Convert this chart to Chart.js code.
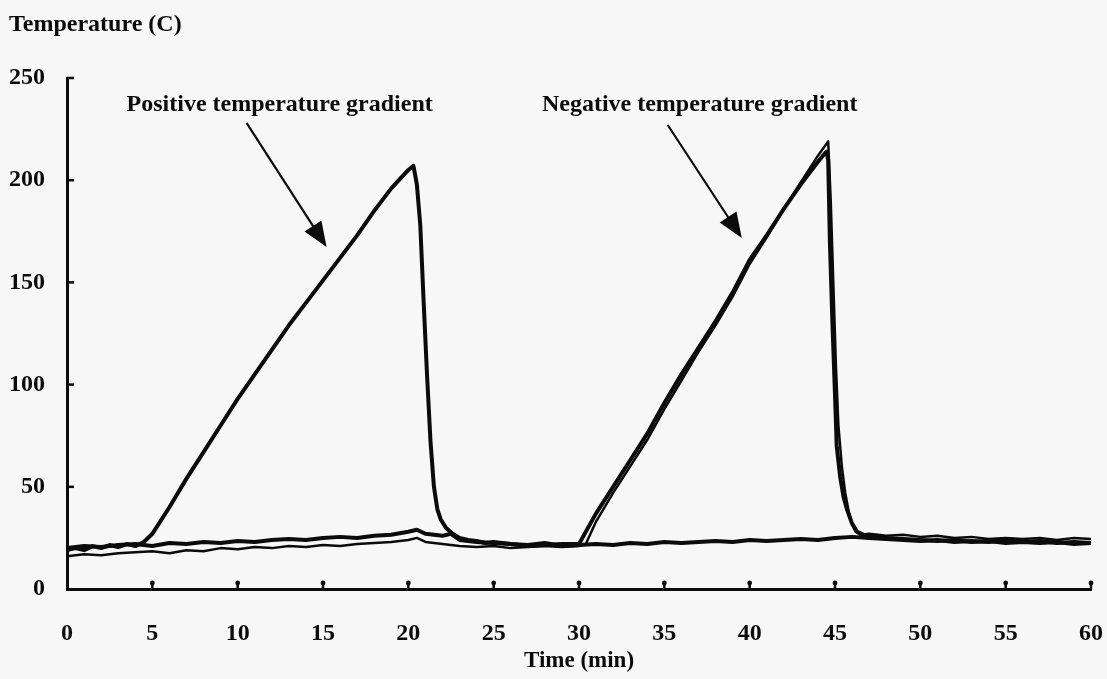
<!DOCTYPE html>
<html>
<head>
<meta charset="utf-8">
<script src="https://cdn.jsdelivr.net/npm/chart.js@4/dist/chart.umd.min.js"></script>
<style>
  html, body { margin: 0; padding: 0; background: #f7f7f7; }
  canvas { display: block; }
</style>
</head>
<body>
<canvas id="tempChart" width="1107" height="679"></canvas>
<script>
"use strict"

// thermocouple at the heater, positive gradient run (first ramp)
const posTime = [0, 0.5, 1, 1.5, 2, 2.5, 3, 3.5, 4, 4.5, 5, 6, 7, 8, 9, 10, 11, 12, 13, 14, 15, 16, 17, 18, 19, 20, 20.3,
    20.5, 20.7, 20.9, 21.1, 21.3, 21.5, 21.7, 21.9, 22.2, 22.6, 23, 23.5, 24, 24.5, 25, 26, 27, 28, 29, 30, 31, 32, 33, 34,
    35, 36, 37, 38, 39, 40, 41, 42, 43, 44, 45, 46, 47, 48, 49, 50, 51, 52, 53, 54, 55, 56, 57, 58, 59, 60];
const posTemp = [19, 20, 19, 21, 20, 21.5, 20.5, 22, 21, 23, 27, 40, 54, 67, 80, 93, 105, 117, 129, 140, 151, 162, 173, 185, 196, 205, 207,
    198, 178, 140, 104, 72, 50, 39, 34, 30, 27, 25, 24, 23.5, 22.5, 23, 22, 21.5, 22.5, 21, 21.5, 22, 21.5, 22.5, 22,
    23, 22.5, 23, 23.5, 23, 24, 23.5, 24, 24.5, 24, 25, 25.5, 25, 24.5, 24, 23.5, 24, 23, 23.5, 23, 24, 23, 23.5, 22.5, 23, 22.5];

// thermocouple at the heater, negative gradient run (second ramp)
const negTime = [0, 1, 2, 3, 4, 5, 6, 7, 8, 9, 10, 11, 12, 13, 14, 15, 16, 17, 18, 19, 20, 20.5, 21, 22, 22.5, 23, 24, 25, 26, 27, 28, 29, 30,
    31, 32, 33, 34, 35, 36, 37, 38, 39, 40, 41, 42, 43, 44, 44.5,
    44.6, 44.7, 44.85, 45, 45.1, 45.3, 45.5, 45.7, 46, 46.3, 46.8, 47.5, 48, 49, 50, 51, 52, 53, 54, 55, 56, 57, 58, 59, 60];
const negTemp = [20, 21, 20.5, 21.5, 22, 21, 22.5, 22, 23, 22.5, 23.5, 23, 24, 24.5, 24, 25, 25.5, 25, 26, 26.5, 28, 29, 27, 26, 27, 24, 23, 22.5, 22, 21, 21.5, 22, 22,
    37, 50, 63, 76, 91, 105, 118, 131, 145, 161, 173, 186, 198, 209, 214,
    210, 170, 130, 95, 70, 55, 45, 39, 32, 28, 26, 25.5, 25, 24.5, 24, 23.5, 24, 23, 23.5, 22.5, 23, 22.5, 23, 22, 22.5];

// second sensor of the negative gradient run
const neg2Time = [0, 1, 2, 3, 4, 5, 6, 7, 8, 9, 10, 11, 12, 13, 14, 15, 16, 17, 18, 19, 20, 20.5, 21, 22, 23, 24, 25, 26, 27, 28, 29, 30, 30.4,
    31, 32, 33, 34, 35, 36, 37, 38, 39, 40, 41, 42, 43, 44, 44.6,
    44.75, 44.9, 45.05, 45.2, 45.4, 45.6, 45.8, 46, 46.2, 46.5, 47, 48, 49, 50, 51, 52, 53, 54, 55, 56, 57, 58, 59, 60];
const neg2Temp = [16, 17, 16.5, 17.5, 18, 18.5, 17.5, 19, 18.5, 20, 19.5, 20.5, 20, 21, 20.5, 21.5, 21, 22, 22.5, 23, 24, 25, 23, 22, 21, 20.5, 21, 20, 20.5, 21, 20.5, 21, 22,
    33, 47, 60, 73, 88, 102, 116, 129, 143, 159, 172, 186, 199, 212, 219,
    190, 150, 110, 80, 60, 47, 38, 32, 28, 26.5, 27, 26, 26.5, 25.5, 26, 25, 25.5, 24.5, 25, 24.5, 25, 24, 25, 24.5];

const xTicks = [0, 5, 10, 15, 20, 25, 30, 35, 40, 45, 50, 55, 60];
const yTicks = [0, 50, 100, 150, 200, 250];

// label text and arrow ends, in minutes / degrees
const notes = [
    { text: "Positive temperature gradient", x: 12.46, y: 237, from: [10.52, 228], to: [15.21, 167.3] },
    { text: "Negative temperature gradient", x: 37.07, y: 237, from: [35.2, 227], to: [39.54, 171.7] }
];

function toPoints(xs, ys) {
    return xs.map((x, i) => ({ x: x, y: ys[i] }));
}

const serif = "'Liberation Serif', 'Times New Roman', serif";
const ink = "#0b0b0b";

const extras = {
    id: "extras",
    afterDraw(chart) {
        const ctx = chart.ctx;
        const xs = chart.scales.x;
        const ys = chart.scales.y;
        const area = chart.chartArea;
        ctx.save();
        ctx.strokeStyle = ink;
        ctx.fillStyle = ink;

        // little tick marks on the inside of the axes
        ctx.lineWidth = 2.5;
        xTicks.forEach(v => {
            if (v === 0) return;
            const px = xs.getPixelForValue(v);
            ctx.beginPath();
            ctx.moveTo(px, area.bottom);
            ctx.lineTo(px, area.bottom - 7);
            ctx.stroke();
            ctx.beginPath();
            ctx.arc(px, area.bottom - 6, 2.4, 0, Math.PI * 2);
            ctx.fill();
        });
        yTicks.forEach(v => {
            if (v === 0) return;
            const py = ys.getPixelForValue(v);
            ctx.beginPath();
            ctx.moveTo(area.left, py);
            ctx.lineTo(area.left + 7, py);
            ctx.stroke();
        });

        // annotations
        ctx.font = "bold 24px " + serif;
        ctx.textAlign = "center";
        ctx.textBaseline = "middle";
        notes.forEach(n => {
            ctx.fillText(n.text, xs.getPixelForValue(n.x), ys.getPixelForValue(n.y));
            const x0 = xs.getPixelForValue(n.from[0]), y0 = ys.getPixelForValue(n.from[1]);
            const x1 = xs.getPixelForValue(n.to[0]), y1 = ys.getPixelForValue(n.to[1]);
            const ang = Math.atan2(y1 - y0, x1 - x0);
            const len = 27, half = 0.38;
            ctx.lineWidth = 2.2;
            ctx.beginPath();
            ctx.moveTo(x0, y0);
            ctx.lineTo(x1 - Math.cos(ang) * len * 0.8, y1 - Math.sin(ang) * len * 0.8);
            ctx.stroke();
            ctx.beginPath();
            ctx.moveTo(x1, y1);
            ctx.lineTo(x1 - len * Math.cos(ang - half), y1 - len * Math.sin(ang - half));
            ctx.lineTo(x1 - len * Math.cos(ang + half), y1 - len * Math.sin(ang + half));
            ctx.closePath();
            ctx.fill();
        });

        // axis titles
        ctx.textAlign = "left";
        ctx.textBaseline = "alphabetic";
        ctx.font = "bold 24px " + serif;
        ctx.fillText("Temperature (C)", 9, 31);
        ctx.textAlign = "center";
        ctx.font = "bold 23px " + serif;
        ctx.fillText("Time (min)", (area.left + area.right) / 2, 667);
        ctx.restore();
    }
};

const lineStyle = {
    borderColor: ink,
    backgroundColor: ink,
    pointRadius: 0,
    tension: 0,
    borderJoinStyle: "round",
    borderCapStyle: "round",
    fill: false
};

new Chart("tempChart", {
    type: "line",
    data: {
        datasets: [
            Object.assign({ label: "positive", data: toPoints(posTime, posTemp), borderWidth: 4 }, lineStyle),
            Object.assign({ label: "negative", data: toPoints(negTime, negTemp), borderWidth: 4 }, lineStyle),
            Object.assign({ label: "negative 2", data: toPoints(neg2Time, neg2Temp), borderWidth: 2.5 }, lineStyle)
        ]
    },
    options: {
        responsive: false,
        animation: false,
        layout: { padding: { top: 78, right: 16, left: 0, bottom: 0 } },
        plugins: {
            legend: { display: false },
            tooltip: { enabled: false }
        },
        scales: {
            x: {
                type: "linear",
                min: 0,
                max: 60,
                afterFit: scale => {
                    scale.height = 90;
                    scale.paddingLeft = 0;
                    scale.paddingRight = 0;
                },
                afterBuildTicks: scale => { scale.ticks = xTicks.map(v => ({ value: v })); },
                grid: { display: false, drawTicks: false },
                border: { display: true, color: ink, width: 3 },
                ticks: {
                    color: ink,
                    padding: 30,
                    maxRotation: 0,
                    autoSkip: false,
                    font: { family: serif, weight: "bold", size: 24 }
                }
            },
            y: {
                min: 0,
                max: 250,
                afterFit: scale => {
                    scale.width = 67;
                    scale.paddingTop = 0;
                    scale.paddingBottom = 0;
                },
                afterBuildTicks: scale => { scale.ticks = yTicks.map(v => ({ value: v })); },
                grid: { display: false, drawTicks: false },
                border: { display: true, color: ink, width: 3 },
                ticks: {
                    color: ink,
                    padding: 22,
                    font: { family: serif, weight: "bold", size: 24 }
                }
            }
        }
    },
    plugins: [extras]
});
</script>
</body>
</html>
